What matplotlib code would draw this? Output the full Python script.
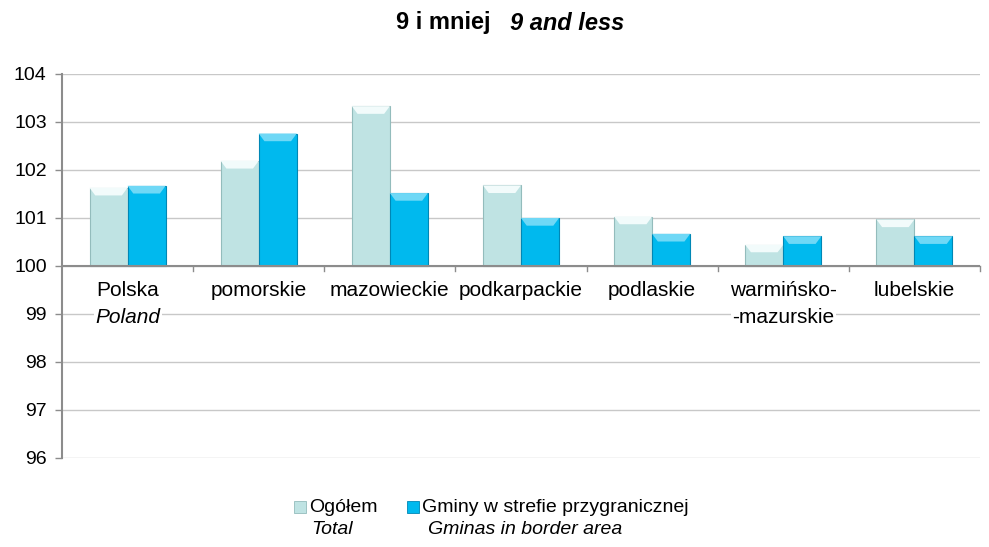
import matplotlib
matplotlib.use("Agg")
import matplotlib.pyplot as plt
import numpy as np
from matplotlib.patches import Rectangle, Polygon

plt.rcParams['font.family'] = ['Liberation Sans', 'DejaVu Sans']

categories_pl = ["Polska", "pomorskie", "mazowieckie", "podkarpackie", "podlaskie", "warmińsko-", "lubelskie"]
categories_en = ["Poland", "", "", "", "", "", ""]
categories_line2 = ["", "", "", "", "", "-mazurskie", ""]
ogolem = [101.63, 102.19, 103.33, 101.68, 101.03, 100.44, 100.97]
gminy = [101.67, 102.76, 101.52, 101.00, 100.67, 100.62, 100.62]
yticks = [96, 97, 98, 99, 100, 101, 102, 103, 104]
base = 100

c_og = "#bfe3e3"
c_gm = "#00b9ee"
e_og = "#93bcbc"
e_gm = "#0087b5"
hl_og = "#f2fbfb"
hl_gm = "#6fd8f6"

fig = plt.figure(figsize=(9.89, 5.47), dpi=100)
ax = fig.add_axes([62/989, (547-458)/547, (980-62)/989, (458-74)/547])

x = np.arange(len(categories_pl))
w = 0.29
b1 = ax.bar(x - w/2, np.array(ogolem) - base, w, bottom=base, color=c_og, edgecolor=e_og, linewidth=0.8, zorder=3)
b2 = ax.bar(x + w/2, np.array(gminy) - base, w, bottom=base, color=c_gm, edgecolor=e_gm, linewidth=0.8, zorder=3)
# bevel highlight on bar tops (derived from bar geometry)
for bars, hl in ((b1, hl_og), (b2, hl_gm)):
    for r in bars:
        x0 = r.get_x(); x1 = x0 + r.get_width()
        top = r.get_y() + r.get_height()
        h = min(0.16, r.get_height() * 0.35)
        inset = r.get_width() * 0.15
        ax.add_patch(Polygon([(x0, top), (x1, top), (x1 - inset, top - h), (x0 + inset, top - h)],
                             closed=True, facecolor=hl, edgecolor="none", zorder=4))

ax.set_xlim(-0.5, len(categories_pl) - 0.5)
ax.set_ylim(96, 104)
ax.set_yticks(yticks)
ax.set_yticklabels([str(v) for v in yticks], fontsize=14)
ax.yaxis.grid(True, color="#c8c8c8", linewidth=1, zorder=0)
ax.set_xticks([])
for s in ("top", "right", "bottom"):
    ax.spines[s].set_visible(False)
ax.spines["left"].set_color("#8c8c8c")
ax.spines["left"].set_linewidth(1.5)
ax.tick_params(axis="y", color="#8c8c8c", length=5, width=1, pad=6)

# baseline at 100 with tick marks between categories
ax.axhline(base, color="#8c8c8c", linewidth=1.5, zorder=5)
for b in np.arange(0.5, len(categories_pl), 1.0):
    ax.plot([b, b], [base, base - 0.1], color="#8c8c8c", linewidth=1, zorder=5, clip_on=False)

for i, (pl, en, l2) in enumerate(zip(categories_pl, categories_en, categories_line2)):
    ax.text(i, 99.48, pl, ha="center", va="center", fontsize=15, zorder=6)
    if en:
        ax.text(i, 98.93, en, ha="center", va="center", fontsize=15, style="italic", zorder=6,
                bbox=dict(facecolor="white", edgecolor="none", pad=1))
    if l2:
        ax.text(i, 98.93, l2, ha="center", va="center", fontsize=15, zorder=6,
                bbox=dict(facecolor="white", edgecolor="none", pad=1))

# title
fig.text(490/989, 1 - 23/547, "9 i mniej", ha="right", va="center", fontsize=17, fontweight="bold")
fig.text(510/989, 1 - 23/547, "9 and less", ha="left", va="center", fontsize=17, fontweight="bold", style="italic")

# legend (manual)
ly1 = 1 - 507/547
ly2 = 1 - 529/547
sq = 12
for (xpx, col, ecol, t1, t2, t2x) in ((294, c_og, e_og, "Ogółem", "Total", 311),
                                     (407, c_gm, e_gm, "Gminy w strefie przygranicznej", "Gminas in border area", 428)):
    fig.patches.append(Rectangle((xpx/989, ly1 - sq/2/547), sq/989, sq/547, transform=fig.transFigure,
                                 facecolor=col, edgecolor=ecol, linewidth=0.6))
    fig.text((xpx + sq + 3)/989, ly1, t1, ha="left", va="center", fontsize=14)
    fig.text(t2x/989, ly2, t2, ha="left", va="center", fontsize=14, style="italic")

fig.savefig("out.png", dpi=100, facecolor="white")
